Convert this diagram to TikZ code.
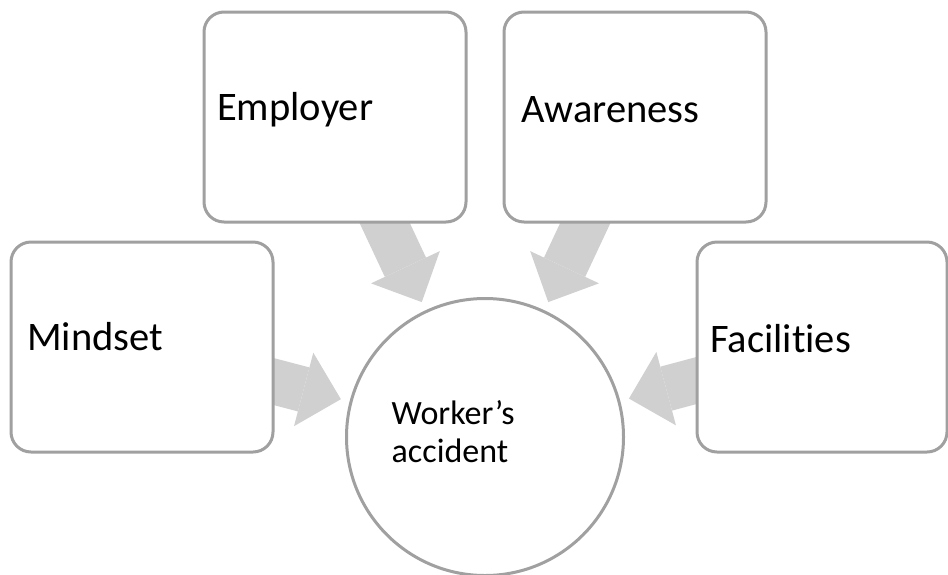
\documentclass[tikz,border=0pt]{standalone}
\usepackage{fontspec}
\setmainfont{Carlito}[Ligatures=NoCommon]
\usetikzlibrary{arrows.meta,calc}
\pgfdeclarelayer{background}
\pgfsetlayers{background,main}
\definecolor{boxgray}{RGB}{160,160,160}
\definecolor{arrowgray}{RGB}{208,208,208}
\begin{document}
\begin{tikzpicture}[x=1pt,y=-1pt,
  factor/.style={draw=boxgray, line width=3pt, fill=white, rounded corners=20pt,
    minimum width=262pt, minimum height=210pt, inner sep=0pt, outer sep=0pt},
  hub/.style={circle, draw=boxgray, line width=3pt, fill=white,
    minimum size=277pt, inner sep=0pt, outer sep=0pt},
  lbl/.style={anchor=base west, inner sep=0pt, font=\fontsize{40.5}{48}\selectfont},
  hublbl/.style={anchor=base west, inner sep=0pt, align=left, font=\fontsize{34}{38}\selectfont},
  flow/.style={draw=arrowgray, line width=45.5pt,
    -{Triangle[width=76pt,length=38.5pt,line width=0pt]}, shorten >=10.5pt}
]
\useasboundingbox (0,0) rectangle (948,574);
\node[hub] (acc) at (485,437) {};
\node[factor] (emp) at (335,117) {};
\node[factor] (awa) at (635,117) {};
\node[factor] (mind) at (142,347) {};
\node[factor, minimum width=250pt] (fac) at (822,347) {};
\node[lbl] (empt) at (217,120) {Employer};
\node[lbl] (awat) at (521,122) {Awareness};
\node[lbl] (mindt) at (27,350) {Mindset};
\node[lbl] (fact) at (710,352) {Facilities};
\node[hublbl] (acct) at (391.5,462) {Worker’s\\accident};
\begin{pgfonlayer}{background}
\draw[flow] (emp.center) -- (acc);
\draw[flow] (awa.center) -- (acc);
\draw[flow] (mind.center) -- (acc);
\draw[flow] (fac.center) -- (acc);
\end{pgfonlayer}
\end{tikzpicture}
\end{document}
